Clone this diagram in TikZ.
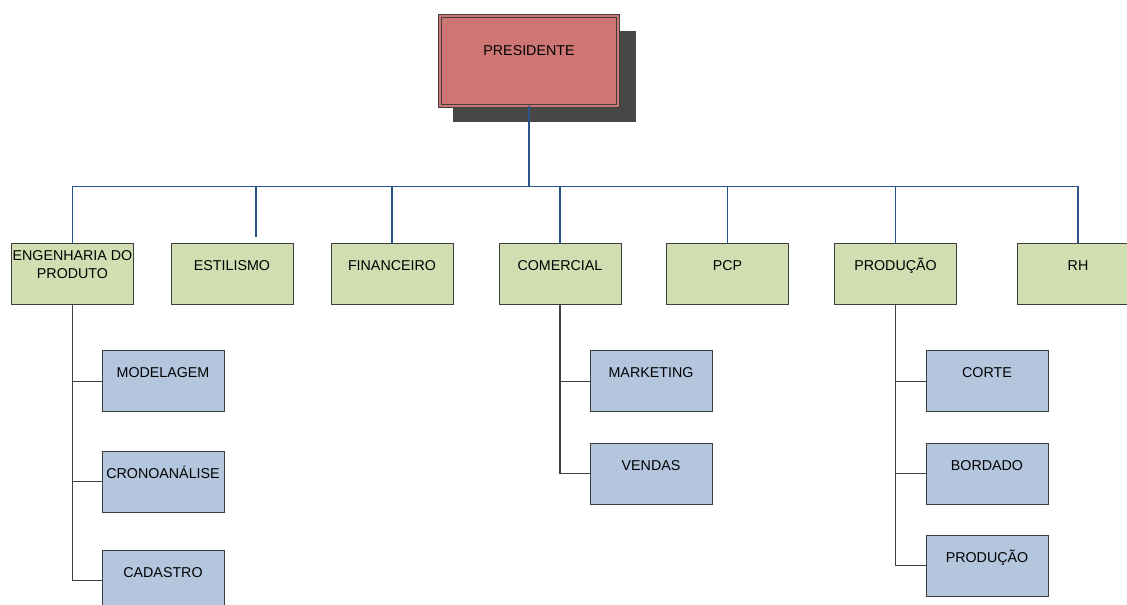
\documentclass[tikz,border=0pt]{standalone}
\usepackage{fontspec}
\setmainfont{Liberation Sans}
\usetikzlibrary{shadows}
\definecolor{presfill}{HTML}{CD7673}
\definecolor{shadowgray}{HTML}{474747}
\definecolor{greenfill}{HTML}{D1DEB2}
\definecolor{bluefill}{HTML}{B3C6DE}
\definecolor{borderc}{HTML}{3F3F3F}
\definecolor{navyline}{HTML}{2C5489}
\definecolor{grayline}{HTML}{404040}
\begin{document}
\begin{tikzpicture}[x=0.75pt,y=-0.75pt,
  font=\fontsize{10.7pt}{13.5pt}\selectfont,
  presbox/.style={draw=borderc, line width=0.6pt, double=presfill, double distance=1.6pt,
    fill=presfill, minimum width=134pt, minimum height=67pt, inner sep=0pt,
    text height=7.5pt, text depth=15pt,
    drop shadow={shadow xshift=11.25pt, shadow yshift=-11.25pt, shadow scale=1.025,
      fill=shadowgray, opacity=1}},
  lvlone/.style={draw=borderc, line width=0.75pt, fill=greenfill, minimum width=91.5pt,
    minimum height=45.75pt, inner sep=0pt, text height=7.5pt, text depth=12.75pt},
  lvltwo/.style={draw=borderc, line width=0.75pt, fill=bluefill, minimum width=91.5pt,
    minimum height=45.75pt, inner sep=0pt, text height=7.5pt, text depth=12.75pt},
  topline/.style={draw=navyline, line width=0.8pt},
  subline/.style={draw=grayline, line width=0.8pt}]
\clip (0,0) rectangle (1127,605);
\fill[white] (0,0) rectangle (1127,605);

% president
\node[presbox] (pres) at (529,61) {PRESIDENTE};

% level one
\node[lvlone] (eng) at (72.5,274.5) {};
\node[align=center, inner sep=0pt] (engt) at (72.5,265) {ENGENHARIA DO\\PRODUTO};
\node[lvlone] (est) at (232,274.5) {ESTILISMO};
\node[lvlone] (fin) at (392,274.5) {FINANCEIRO};
\node[lvlone] (com) at (560,274.5) {COMERCIAL};
\node[lvlone] (pcp) at (727.5,274.5) {PCP};
\node[lvlone] (prod) at (895.5,274.5) {PRODUÇÃO};
\node[lvlone] (rh) at (1078,274.5) {RH};

% level two
\node[lvltwo] (mod) at (163,381.5) {MODELAGEM};
\node[lvltwo] (cro) at (163,481.5) {CRONOANÁLISE};
\node[lvltwo] (cad) at (163,580.5) {CADASTRO};
\node[lvltwo] (mkt) at (651,381.5) {MARKETING};
\node[lvltwo] (ven) at (651,473.5) {VENDAS};
\node[lvltwo] (cor) at (987,381.5) {CORTE};
\node[lvltwo] (bor) at (987,473.5) {BORDADO};
\node[lvltwo] (prd) at (987,565.5) {PRODUÇÃO};

% top connectors
\coordinate (bar) at (529,186.5);
\coordinate (estend) at (256,237);
\draw[topline] (pres.south) -- (bar);
\draw[topline] (eng.north |- bar) -- (rh.north |- bar);
\draw[topline] (eng.north |- bar) -- (eng.north);
\draw[topline] (estend |- bar) -- (estend);
\draw[topline] (fin.north |- bar) -- (fin.north);
\draw[topline] (com.north |- bar) -- (com.north);
\draw[topline] (pcp.north |- bar) -- (pcp.north);
\draw[topline] (prod.north |- bar) -- (prod.north);
\draw[topline] (rh.north |- bar) -- (rh.north);

% sub connectors
\draw[subline] (eng.south) |- (mod.west);
\draw[subline] (eng.south) |- (cro.west);
\draw[subline] (eng.south) |- (cad.west);
\draw[subline] (com.south) |- (mkt.west);
\draw[subline] (com.south) |- (ven.west);
\draw[subline] (prod.south) |- (cor.west);
\draw[subline] (prod.south) |- (bor.west);
\draw[subline] (prod.south) |- (prd.west);
\end{tikzpicture}
\end{document}
